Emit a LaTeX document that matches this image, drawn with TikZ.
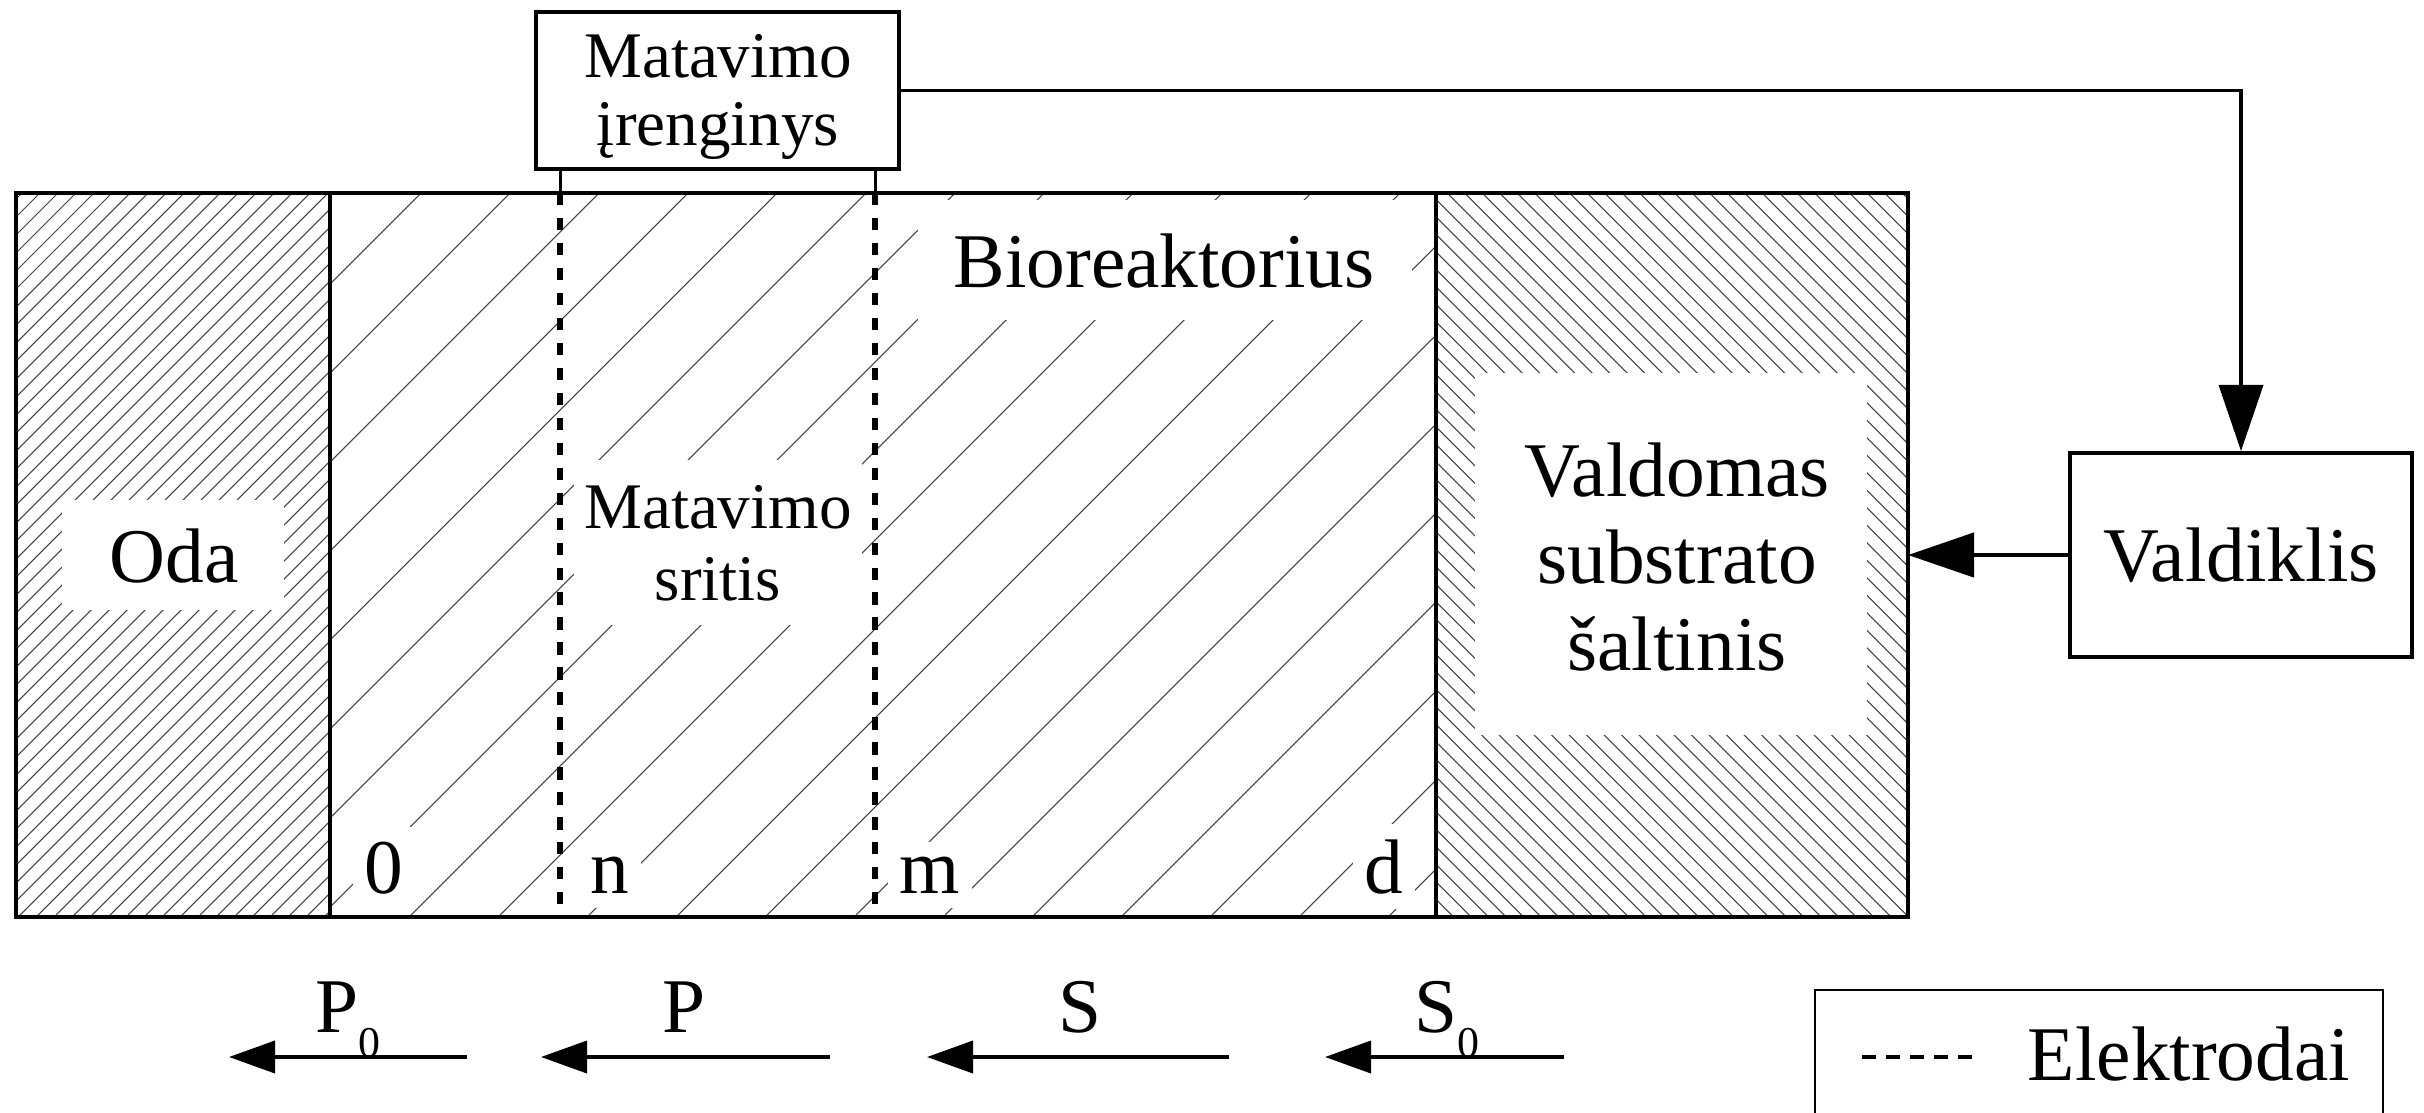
\documentclass[tikz,border=0pt]{standalone}
\usepackage{fontspec}
\setmainfont{Liberation Serif}
\usetikzlibrary{arrows.meta}
\begin{document}
\begin{tikzpicture}[x=0.01cm,y=-0.01cm,
  hatch/.style={line width=0.3pt, black!75},
  border/.style={line width=1.1pt},
  bigfont/.style={font={\fontsize{22}{24.7}\selectfont}},
  smallfont/.style={font={\fontsize{18.5}{19.1}\selectfont}},
  whitebox/.style={fill=white, draw=none},
  electrode/.style={line width=1.7pt, dash pattern=on 3.5pt off 3.6pt},
  blockbox/.style={draw, line width=1.1pt, inner sep=0pt, align=center},
  flow/.style={line width=1.1pt, -{Triangle[length=0.46cm,width=0.32cm]}},
  ctrl/.style={line width=1pt, -{Triangle[length=0.66cm,width=0.44cm]}},
  lbl/.style={bigfont, fill=white, inner xsep=0.12cm, inner ysep=0.15cm, anchor=base},
  plain/.style={inner sep=0pt, anchor=base}
]
\useasboundingbox (0,0) rectangle (2424,1112);

% hatching: Oda
\begin{scope}
  \clip (16,193) rectangle (330,917);
  \foreach \c in {-720,-702,...,340} \draw[hatch] (\c,917) -- ++(724,-724);
\end{scope}
% hatching: Bioreaktorius
\begin{scope}
  \clip (330,193) rectangle (1436,917);
  \foreach \k in {525,614,...,2360} \draw[hatch] ({\k-917},917) -- ({\k-193},193);
\end{scope}
% hatching: substrate source
\begin{scope}
  \clip (1436,193) rectangle (1908,917);
  \foreach \c in {519,536.5,...,1720} \draw[hatch] ({\c+193},193) -- ({\c+917},917);
\end{scope}

% white label areas
\fill[whitebox] (62,500) rectangle (284,610);
\fill[whitebox] (1475,373) rectangle (1867,735);
\fill[whitebox] (574,460) rectangle (862,625);
\fill[whitebox] (918,200) rectangle (1412,320);

% texts in regions
\node[plain, bigfont] (oda) at (174,582) {Oda};
\node[plain, bigfont] (bio) at (1164,287) {Bioreaktorius};
\node[align=center, inner sep=0pt, font={\fontsize{18.5}{20.5}\selectfont}] (sritis) at (718,543) {Matavimo\\sritis};
\node[bigfont, align=center, inner sep=0pt] (src) at (1677,557) {Valdomas\\substrato\\šaltinis};

\node[lbl] (l0) at (384,893) {0};
\node[lbl] (ln) at (610,893) {n};
\node[lbl] (lm) at (930,893) {m};
\node[lbl] (ld) at (1384,893) {d};

% frame
\draw[border] (16,193) rectangle (1908,917);
\draw[line width=0.9pt] (330,193) -- (330,917);
\draw[line width=0.9pt] (1436,193) -- (1436,917);

% measuring device and controller
\node[blockbox, minimum width=3.63cm, minimum height=1.57cm] (meas) at (717.5,90.5) {};
\node[smallfont, align=center, inner sep=0pt] (meastxt) at (718,97) {Matavimo\\įrenginys};
\node[blockbox, bigfont, minimum width=3.42cm, minimum height=2.04cm] (vald) at (2241,555) {Valdiklis};

% electrodes
\coordinate (e1t) at (560,193); \coordinate (e1b) at (560,917);
\coordinate (e2t) at (875,193); \coordinate (e2b) at (875,917);
\draw[line width=0.85pt] (meas.south -| e1t) -- (e1t);
\draw[line width=0.85pt] (meas.south -| e2t) -- (e2t);
\draw[electrode] (e1t) -- (e1b);
\draw[electrode] (e2t) -- (e2b);

% control loop
\coordinate (srcR) at (1908,555);
\draw[ctrl] (meas.east) -| (vald.north);
\draw[ctrl, line width=1.3pt] (vald.west) -- (srcR);

% flow arrows
\coordinate (p0s) at (467,1057); \coordinate (p0e) at (229,1057);
\coordinate (ps) at (830,1057);  \coordinate (pe) at (541,1057);
\coordinate (ss) at (1229,1057); \coordinate (se) at (927,1057);
\coordinate (s0s) at (1564,1057); \coordinate (s0e) at (1325,1057);
\draw[flow] (p0s) -- (p0e);
\draw[flow] (ps) -- (pe);
\draw[flow] (ss) -- (se);
\draw[flow] (s0s) -- (s0e);
\node[plain, bigfont, anchor=base west] (lp0) at (315,1032) {P\raisebox{-0.25cm}{\fontsize{12.5}{14}\selectfont 0}};
\node[plain, bigfont] (lp) at (684,1032) {P};
\node[plain, bigfont] (ls) at (1080,1032) {S};
\node[plain, bigfont, anchor=base west] (ls0) at (1414,1032) {S\raisebox{-0.25cm}{\fontsize{12.5}{14}\selectfont 0}};

% legend
\draw[line width=0.6pt] (1815,1125) -- (1815,990) -- (2383,990) -- (2383,1125);
\coordinate (lgA) at (1862,1057); \coordinate (lgB) at (1976,1057);
\draw[line width=1.4pt, dash pattern=on 3.98pt off 2.85pt] (lgA) -- (lgB);
\node[plain, bigfont] (leg) at (2189,1080) {Elektrodai};
\end{tikzpicture}
\end{document}
